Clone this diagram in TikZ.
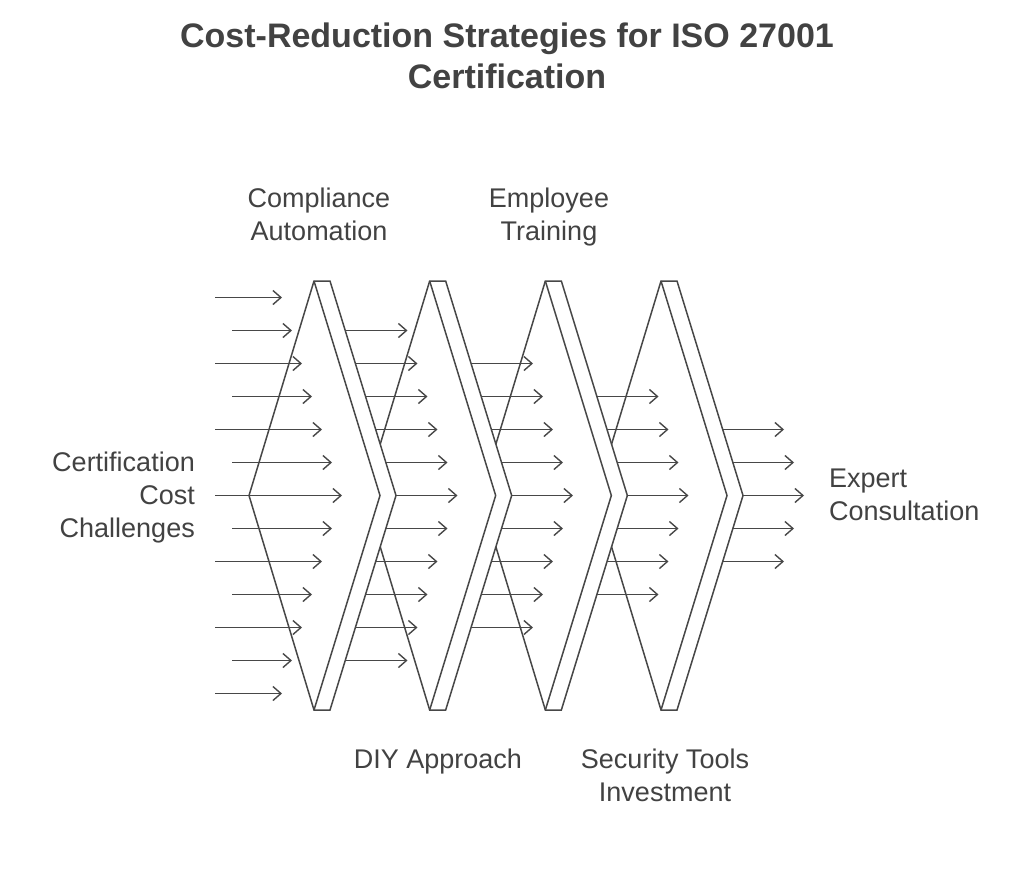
\documentclass[tikz,border=0pt]{standalone}
\usepackage{fontspec}
\setmainfont{Liberation Sans}
\usetikzlibrary{arrows.meta}
\definecolor{ink}{HTML}{474747}
\definecolor{txt}{HTML}{424242}
\begin{document}
\begin{tikzpicture}[x=1pt,y=-1pt,
  shapeline/.style={draw=ink,line width=1.5pt,line join=miter,fill=white},
  innerline/.style={draw=ink,line width=1.5pt,line join=miter},
  arr/.style={draw=ink,line width=1.4pt,-{Straight Barb[length=8pt,width=14pt,line width=1.4pt]}},
  lbl/.style={text=txt,font=\fontsize{27}{33}\selectfont,inner sep=0pt,anchor=north,align=center},
  ttl/.style={text=txt,font=\bfseries\fontsize{34}{41}\selectfont,inner sep=0pt,anchor=north,align=center}]
\useasboundingbox (0,0) rectangle (1024,876);
\fill[white] (0,0) rectangle (1024,876);

\node[ttl] (title) at (507,23) {Cost-Reduction Strategies for ISO 27001\\Certification};

% filter shapes, drawn right to left so that the left ones lie on top
\foreach \k in {3,2,1,0}{
  \pgfmathsetmacro{\xo}{314+115.67*\k}
  \coordinate (L\k)  at (\xo-65,495.5);
  \coordinate (TL\k) at (\xo,281);
  \coordinate (TR\k) at (\xo+16,281);
  \coordinate (O\k)  at (\xo+82,495.5);
  \coordinate (I\k)  at (\xo+66,495.5);
  \coordinate (BR\k) at (\xo+16,710);
  \coordinate (BL\k) at (\xo,710);
  \path[shapeline] (L\k) -- (TL\k) -- (TR\k) -- (O\k) -- (BR\k) -- (BL\k) -- cycle;
  \draw[innerline] (TL\k) -- (I\k) -- (BL\k);
}

% incoming arrows
\foreach \i in {-6,...,6}{
  \pgfmathsetmacro{\yy}{495.5+33*\i}
  \pgfmathtruncatemacro{\d}{abs(\i)}
  \pgfmathsetmacro{\xs}{isodd(\d) ? 232 : 215}
  \pgfmathsetmacro{\xe}{342-10*\d}
  \coordinate (s0\i) at (\xs,\yy);
  \coordinate (e0\i) at (\xe,\yy);
  \draw[arr] (s0\i) -- (e0\i);
}

% arrows leaving each filter
\foreach \g in {1,...,4}{
  \pgfmathtruncatemacro{\n}{6-\g}
  \foreach \i in {-\n,...,\n}{
    \pgfmathsetmacro{\yy}{495.5+33*\i}
    \pgfmathtruncatemacro{\d}{abs(\i)}
    \pgfmathsetmacro{\xs}{314+115.67*(\g-1)+82-66*abs(33*\i)/214.5}
    \pgfmathsetmacro{\xe}{342+115.5*\g-10*\d}
    \coordinate (s\g\i) at (\xs,\yy);
    \coordinate (e\g\i) at (\xe,\yy);
    \draw[arr] (s\g\i) -- (e\g\i);
  }
}

\node[lbl] (ca) at (319,188) {Compliance\\Automation};
\node[lbl] (et) at (549,188) {Employee\\Training};
\node[lbl,anchor=north east,align=right] (ccc) at (195,452) {Certification\\Cost\\Challenges};
\node[lbl,anchor=north west,align=left] (ec) at (829,469) {Expert\\Consultation};
\node[lbl] (diy) at (438,749) {DIY Approach};
\node[lbl] (sti) at (665,749) {Security Tools\\Investment};
\end{tikzpicture}
\end{document}
